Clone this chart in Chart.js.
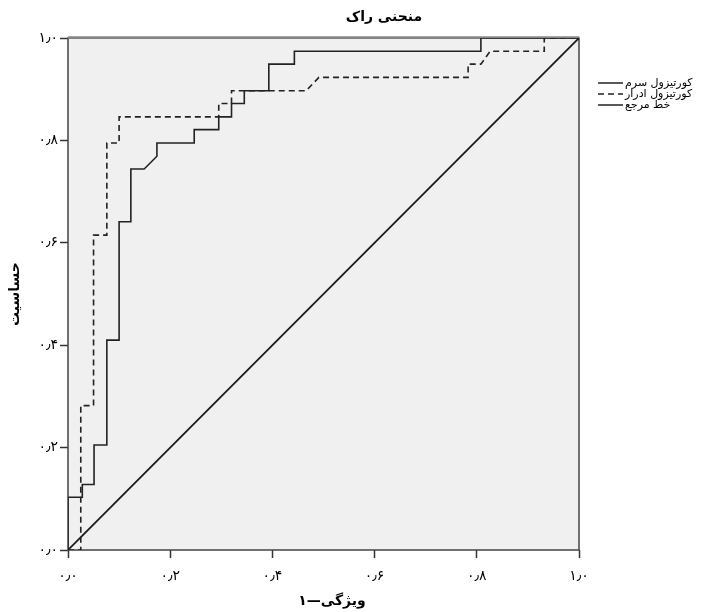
<!DOCTYPE html>
<html>
<head>
<meta charset="utf-8">
<script src="https://cdn.jsdelivr.net/npm/chart.js@4"></script>
<style>
  html, body { margin: 0; padding: 0; background: #fff; }
  #wrap { width: 707px; height: 612px; }
</style>
</head>
<body>
<div id="wrap"><canvas id="myChart" width="707" height="612"></canvas></div>
<script>
var chartTitle = "منحنی راک";
var xTitle = "ویژگی—۱";
var yTitle = "حساسیت";
var tickLabels = ["۰٫۰", "۰٫۲", "۰٫۴", "۰٫۶", "۰٫۸", "۱٫۰"];
var seriesNames = ["کورتیزول سرم", "کورتیزول ادرار", "خط مرجع"];

// points of the ROC curves (1 - specificity, sensitivity)
var serumFpr = [0, 0, 0.028, 0.028, 0.051, 0.051, 0.076, 0.076, 0.100, 0.100, 0.123, 0.123, 0.149, 0.174, 0.174, 0.247, 0.247, 0.295, 0.295, 0.320, 0.320, 0.345, 0.345, 0.393, 0.393, 0.443, 0.443, 0.808, 0.808, 1];
var serumTpr = [0, 0.103, 0.103, 0.128, 0.128, 0.205, 0.205, 0.410, 0.410, 0.641, 0.641, 0.744, 0.744, 0.769, 0.795, 0.795, 0.821, 0.821, 0.846, 0.846, 0.872, 0.872, 0.897, 0.897, 0.949, 0.949, 0.974, 0.974, 1, 1];
var urineFpr = [0, 0.025, 0.025, 0.050, 0.050, 0.076, 0.076, 0.100, 0.100, 0.295, 0.295, 0.320, 0.320, 0.466, 0.491, 0.783, 0.783, 0.808, 0.826, 0.932, 0.932, 1];
var urineTpr = [0, 0, 0.282, 0.282, 0.615, 0.615, 0.795, 0.795, 0.846, 0.846, 0.872, 0.872, 0.897, 0.897, 0.923, 0.923, 0.949, 0.949, 0.974, 0.974, 1, 1];
var refX = [0, 1];
var refY = [0, 1];

function toPoints(xs, ys) {
  return xs.map(function (x, i) { return { x: x, y: ys[i] }; });
}

var persianFont = "'DejaVu Sans', sans-serif";

// background, frame, titles and legend
var frame = {
  id: "frame",
  beforeDraw: function (chart) {
    var a = chart.chartArea, ctx = chart.ctx;
    ctx.save();
    ctx.fillStyle = "#f0f0f0";
    ctx.fillRect(a.left, a.top, a.right - a.left, a.bottom - a.top);
    ctx.restore();
  },
  beforeDatasetsDraw: function (chart) {
    var a = chart.chartArea, ctx = chart.ctx;
    ctx.save();
    ctx.strokeStyle = "#444";
    ctx.lineWidth = 1.5;
    ctx.strokeRect(a.left, a.top, a.right - a.left, a.bottom - a.top);
    ctx.strokeStyle = "#888";
    ctx.lineWidth = 2.5;
    ctx.beginPath();
    ctx.moveTo(a.left, a.top - 0.5);
    ctx.lineTo(a.right, a.top - 0.5);
    ctx.stroke();
    ctx.restore();
  },
  afterDraw: function (chart) {
    var ctx = chart.ctx;
    ctx.save();
    ctx.fillStyle = "#000";
    ctx.font = "bold 14px " + persianFont;
    ctx.textAlign = "center";
    ctx.textBaseline = "middle";
    ctx.fillText(chartTitle, 384, 17);
    ctx.fillText(xTitle, 332, 601);

    var rows = [83, 94, 105];
    ctx.font = "11px " + persianFont;
    ctx.textAlign = "left";
    chart.data.datasets.forEach(function (ds, i) {
      ctx.strokeStyle = "#222";
      ctx.lineWidth = 1.5;
      ctx.setLineDash(ds.borderDash || []);
      ctx.beginPath();
      ctx.moveTo(598, rows[i]);
      ctx.lineTo(623, rows[i]);
      ctx.stroke();
      ctx.setLineDash([]);
      ctx.fillText(ds.label, 625, rows[i]);
    });
    ctx.restore();
  }
};

var ctx = document.getElementById("myChart").getContext("2d");
var myChart = new Chart(ctx, {
  type: "scatter",
  data: {
    datasets: [
      {
        label: seriesNames[0],
        data: toPoints(serumFpr, serumTpr),
        showLine: true,
        borderColor: "#222",
        borderWidth: 1.6,
        pointRadius: 0,
      },
      {
        label: seriesNames[1],
        data: toPoints(urineFpr, urineTpr),
        showLine: true,
        borderColor: "#222",
        borderWidth: 1.6,
        borderDash: [6, 4],
        pointRadius: 0,
      },
      {
        label: seriesNames[2],
        data: toPoints(refX, refY),
        showLine: true,
        borderColor: "#1a1a1a",
        borderWidth: 1.8,
        pointRadius: 0,
      },
    ],
  },
  options: {
    responsive: false,
    animation: false,
    layout: { padding: { left: 0, right: 128, top: 38, bottom: 0 } },
    plugins: {
      legend: { display: false },
      title: { display: false },
      tooltip: { enabled: false },
    },
    scales: {
      x: {
        type: "linear",
        min: 0,
        max: 1,
        afterFit: function (s) { s.height = 62; },
        ticks: {
          stepSize: 0.2,
          autoSkip: false,
          maxRotation: 0,
          padding: 10,
          color: "#000",
          font: { family: persianFont, size: 14 },
          callback: function (v, i) { return tickLabels[i]; },
        },
        grid: { drawOnChartArea: false, tickLength: 8, color: "#333", tickWidth: 1.5 },
        border: { display: false },
        title: { display: false },
      },
      y: {
        type: "linear",
        min: 0,
        max: 1,
        afterFit: function (s) { s.width = 68; },
        ticks: {
          stepSize: 0.2,
          autoSkip: false,
          padding: 2,
          color: "#000",
          font: { family: persianFont, size: 14 },
          callback: function (v, i) { return tickLabels[i]; },
        },
        grid: { drawOnChartArea: false, tickLength: 8, color: "#333", tickWidth: 1.5 },
        border: { display: false },
        title: {
          display: true,
          text: yTitle,
          color: "#000",
          font: { family: persianFont, size: 14, weight: "bold" },
          padding: { top: 7, bottom: 0 },
        },
      },
    },
  },
  plugins: [frame],
});
</script>
</body>
</html>
